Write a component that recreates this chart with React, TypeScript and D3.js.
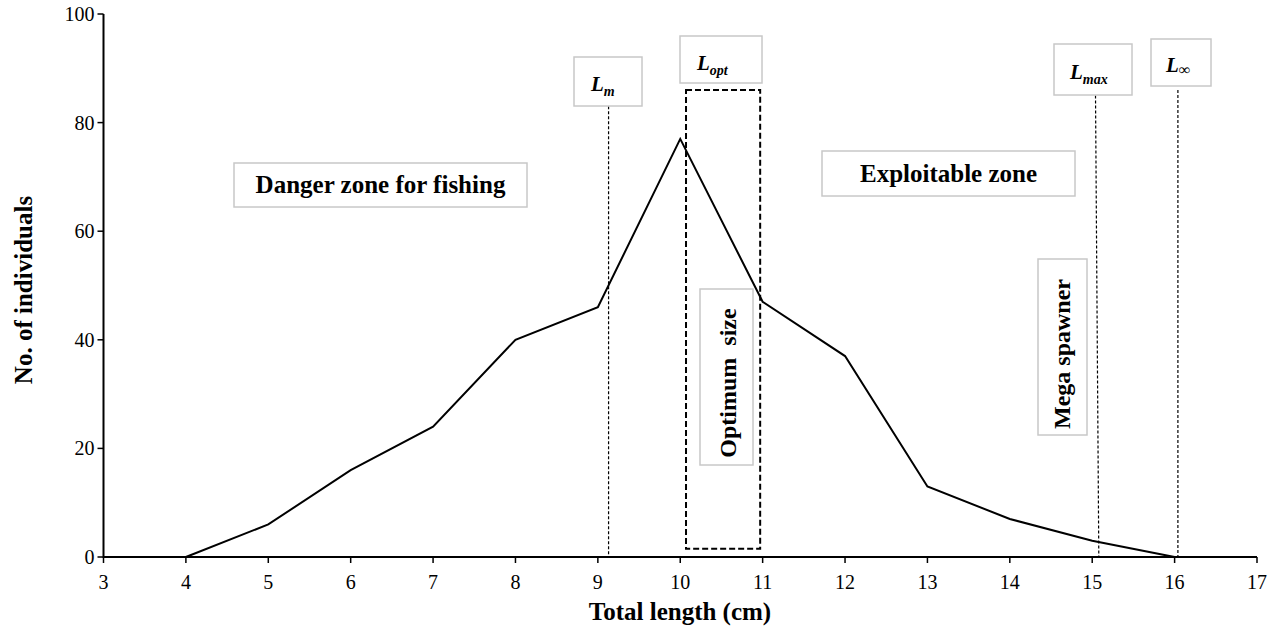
import React from "react";
import * as d3 from "d3";

const lengths = [4, 5, 6, 7, 8, 9, 10, 11, 12, 13, 14, 15, 16];
const counts = [0, 6, 16, 24, 40, 46, 77, 47, 37, 13, 7, 3, 0];
const xTicks = [3, 4, 5, 6, 7, 8, 9, 10, 11, 12, 13, 14, 15, 16, 17];
const yTicks = [0, 20, 40, 60, 80, 100];
const refLines = [
  { name: "Lm", xTop: 9.13, xBottom: 9.13, top: 83 },
  { name: "Lmax", xTop: 15.04, xBottom: 15.08, top: 85 },
  { name: "Linf", xTop: 16.04, xBottom: 16.04, top: 86 },
];
const optRange = [10.07, 10.97];
const optValRange = [1.5, 86];

const W = 1283, H = 632;
const x = d3.scaleLinear().domain([3, 17]).range([103.5, 1257]);
const y = d3.scaleLinear().domain([0, 100]).range([557, 14]);
const FONT = "'Liberation Serif', 'Times New Roman', serif";

function Box({ x0, y0, w, h }: { x0: number; y0: number; w: number; h: number }) {
  return <rect x={x0} y={y0} width={w} height={h} fill="#fff" stroke="#c8c8c8" strokeWidth={1.5} />;
}

export default function App() {
  const line = d3.line<number>().x((_, i) => x(lengths[i])).y((d) => y(d));
  const path = line(counts) || "";
  return (
    <svg width={W} height={H} style={{ position: "absolute", left: 0, top: 0, background: "#fff" }} fontFamily={FONT}>
      {refLines.map((r) => (
        <line key={r.name} x1={x(r.xTop)} x2={x(r.xBottom)} y1={y(r.top)} y2={y(0)} stroke="#000" strokeWidth={1.2} strokeDasharray="3,2" />
      ))}
      <rect x={x(optRange[0])} y={y(optValRange[1])} width={x(optRange[1]) - x(optRange[0])} height={y(optValRange[0]) - y(optValRange[1])} fill="none" stroke="#000" strokeWidth={2} strokeDasharray="6,3" />
      <path d={path} fill="none" stroke="#000" strokeWidth={2} />
      <line x1={x(3)} x2={x(17)} y1={y(0)} y2={y(0)} stroke="#000" strokeWidth={2} />
      <line x1={x(3)} x2={x(3)} y1={y(0) + 1} y2={y(100)} stroke="#000" strokeWidth={2} />
      {yTicks.map((t) => (
        <g key={"y" + t}>
          <line x1={x(3) - 6} x2={x(3)} y1={y(t)} y2={y(t)} stroke="#000" strokeWidth={1.5} />
          <text x={x(3) - 9} y={y(t)} dy="0.35em" textAnchor="end" fontSize={20}>{t}</text>
        </g>
      ))}
      {xTicks.map((t) => (
        <g key={"x" + t}>
          <line x1={x(t)} x2={x(t)} y1={y(0)} y2={y(0) + 6} stroke="#000" strokeWidth={1.5} />
          <text x={x(t)} y={y(0) + 32} textAnchor="middle" fontSize={20}>{t}</text>
        </g>
      ))}
      <text x={680} y={620} textAnchor="middle" fontSize={25} fontWeight="bold">Total length (cm)</text>
      <text transform="translate(32,290) rotate(-90)" textAnchor="middle" fontSize={25} fontWeight="bold">No. of individuals</text>

      <Box x0={574} y0={57} w={68} h={49} />
      <text x={591} y={91} fontSize={21} fontWeight="bold" fontStyle="italic">L<tspan fontSize={14} dy={5}>m</tspan></text>

      <Box x0={680} y0={36} w={82} h={47} />
      <text x={697} y={70} fontSize={21} fontWeight="bold" fontStyle="italic">L<tspan fontSize={14} dy={5}>opt</tspan></text>

      <Box x0={1054} y0={44} w={78} h={51} />
      <text x={1070} y={79} fontSize={21} fontWeight="bold" fontStyle="italic">L<tspan fontSize={14} dy={5}>max</tspan></text>

      <Box x0={1151} y0={39} w={60} h={47} />
      <text x={1166} y={72} fontSize={21} fontWeight="bold" fontStyle="italic">L<tspan fontSize={16} dy={3} fontStyle="normal">∞</tspan></text>

      <Box x0={234} y0={163} w={293} h={44} />
      <text x={380.5} y={193} textAnchor="middle" fontSize={25} fontWeight="bold">Danger zone for fishing</text>

      <Box x0={822} y0={151} w={253} h={45} />
      <text x={948.5} y={182} textAnchor="middle" fontSize={25} fontWeight="bold">Exploitable zone</text>

      <Box x0={700} y0={289} w={53} h={176} />
      <text transform="translate(736,383) rotate(-90)" textAnchor="middle" fontSize={24} fontWeight="bold" style={{ whiteSpace: "pre" }}>{"Optimum  size"}</text>

      <Box x0={1038} y0={259} w={49} h={176} />
      <text transform="translate(1070,354) rotate(-90)" textAnchor="middle" fontSize={24} fontWeight="bold">Mega spawner</text>
    </svg>
  );
}
